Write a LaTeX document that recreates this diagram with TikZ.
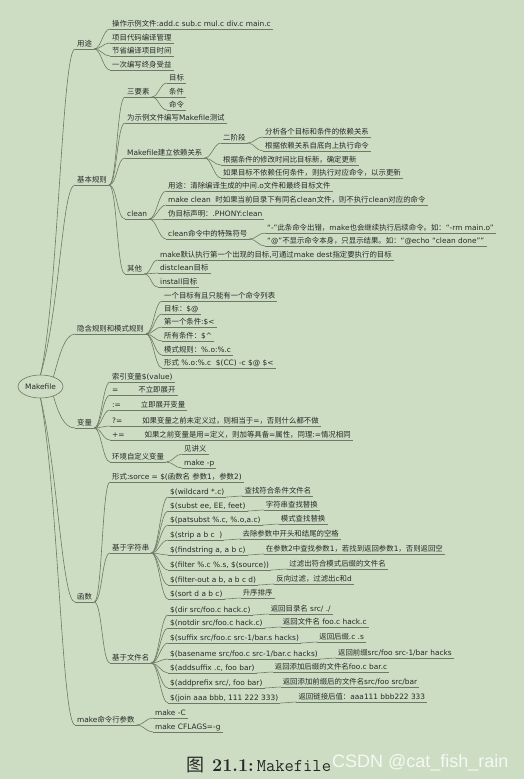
\documentclass[tikz,border=0pt]{standalone}
\usepackage{fontspec}
\setsansfont{DejaVu Sans}
\newfontfamily\zhfont{Noto Sans CJK SC}
\newfontfamily\wmfont{Liberation Sans}
\usetikzlibrary{shapes.geometric}
\XeTeXinterchartokenstate=1
\newXeTeXintercharclass\zhclass
\newcount\zhc
\zhc="3000
\loop\XeTeXcharclass\zhc=\zhclass\relax\ifnum\zhc<"303F\advance\zhc by 1\repeat
\zhc="4E00
\loop\XeTeXcharclass\zhc=\zhclass\relax\ifnum\zhc<"9FFF\advance\zhc by 1\repeat
\zhc="FF00
\loop\XeTeXcharclass\zhc=\zhclass\relax\ifnum\zhc<"FFEF\advance\zhc by 1\repeat
\XeTeXinterchartoks 0 \zhclass = {\zhfont}
\XeTeXinterchartoks 4095 \zhclass = {\zhfont}
\XeTeXinterchartoks \zhclass 0 = {\sffamily}
\XeTeXinterchartoks \zhclass 4095 = {\sffamily}
\newcommand\mmfs{\fontsize{7.4}{8.5}\selectfont}
\definecolor{bg}{RGB}{205,221,195}
\definecolor{lc}{RGB}{110,120,102}
\definecolor{txt}{RGB}{40,40,40}
\tikzset{
  ln/.style={draw=lc, line width=.6pt},
  tp/.style={anchor=south west, inner xsep=2pt, inner ysep=1pt, text height=5.6pt, text depth=1.7pt,
    text=txt, font=\sffamily\mmfs,
    append after command={(\tikzlastnode.south west) edge[ln] (\tikzlastnode.south east)}},
  rt/.style={ellipse, ln, inner sep=0pt, minimum width=45pt, minimum height=23pt, text=txt, font=\sffamily\mmfs},
  br/.style={ln, to path={.. controls +(#1,0) and +(-#1,0) .. (\tikztotarget)}},
  br/.default=7
}
\begin{document}
\begin{tikzpicture}[x=1pt, y=-1pt]
\fill[bg] (0,0) rectangle (524,779);
\node[rt] (mk) at (40.5,386.5) {Makefile};
\node[tp] (yt) at (75,49) {用途};
\node[tp] (yt1) at (110,29) {操作示例文件:add.c sub.c mul.c div.c main.c};
\node[tp] (yt2) at (110,43) {项目代码编译管理};
\node[tp] (yt3) at (110,56) {节省编译项目时间};
\node[tp] (yt4) at (110,70) {一次编写终身受益};
\node[tp] (jb) at (75,185) {基本规则};
\node[tp] (sys) at (125,97) {三要素};
\node[tp] (sys1) at (167,83) {目标};
\node[tp] (sys2) at (167,97) {条件};
\node[tp] (sys3) at (167,110) {命令};
\node[tp] (cs) at (125,123) {为示例文件编写Makefile测试};
\node[tp] (yl) at (125,158) {Makefile建立依赖关系};
\node[tp] (ej) at (221,143) {二阶段};
\node[tp] (ej1) at (263,137) {分析各个目标和条件的依赖关系};
\node[tp] (ej2) at (263,151) {根据依赖关系自底向上执行命令};
\node[tp] (yl3) at (221,165) {根据条件的修改时间比目标新，确定更新};
\node[tp] (yl4) at (221,178) {如果目标不依赖任何条件，则执行对应命令，以示更新};
\node[tp] (cl) at (125,219) {clean};
\node[tp] (cl1) at (166,191) {用途：清除编译生成的中间.o文件和最终目标文件};
\node[tp] (cl2) at (166,205) {make clean\ \ 时如果当前目录下有同名clean文件，则不执行clean对应的命令};
\node[tp] (cl3) at (166,219) {伪目标声明：.PHONY:clean};
\node[tp] (cl4) at (166,239) {clean命令中的特殊符号};
\node[tp] (cl41) at (265,233) {“-”此条命令出错，make也会继续执行后续命令。如：“-rm main.o”};
\node[tp] (cl42) at (265,246) {“@”不显示命令本身，只显示结果。如：“@echo “clean done””};
\node[tp] (qt) at (125,274) {其他};
\node[tp] (qt1) at (158,260) {make默认执行第一个出现的目标,可通过make dest指定要执行的目标};
\node[tp] (qt2) at (158,273) {distclean目标};
\node[tp] (qt3) at (158,287) {install目标};
\node[tp] (yh) at (75,334) {隐含规则和模式规则};
\node[tp] (yh1) at (162,301) {一个目标有且只能有一个命令列表};
\node[tp] (yh2) at (162,314) {目标：\$@};
\node[tp] (yh3) at (162,327) {第一个条件:\$<};
\node[tp] (yh4) at (162,341) {所有条件：\$\textasciicircum};
\node[tp] (yh5) at (162,355) {模式规则：\%.o:\%.c};
\node[tp] (yh6) at (162,368) {形式 \%.o:\%.c\ \ \$(CC) -c \$@ \$<};
\node[tp] (bl) at (75,428) {变量};
\node[tp] (bl1) at (110,382) {索引变量\$(value)};
\node[tp] (bl2) at (110,395) {=\hspace{20pt}不立即展开};
\node[tp] (bl3) at (110,410) {:=\hspace{20pt}立即展开变量};
\node[tp] (bl4) at (110,426) {?=\hspace{20pt}如果变量之前未定义过，则相当于=，否则什么都不做};
\node[tp] (bl5) at (110,440) {+=\hspace{20pt}如果之前变量是用=定义，则加等具备=属性，同理:=情况相同};
\node[tp] (hj) at (110,462) {环境自定义变量};
\node[tp] (hj1) at (182,454) {见讲义};
\node[tp] (hj2) at (182,468) {make -p};
\node[tp] (hs) at (75,602) {函数};
\node[tp] (hs0) at (110,482) {形式:sorce = \$(函数名 参数1，参数2)};
\node[tp] (zf) at (110,553) {基于字符串};
\node[tp] (zf1) at (168,497) {\$(wildcard *.c)};
\node[tp] (zf2) at (168,511) {\$(subst ee, EE, feet)};
\node[tp] (zf3) at (168,525) {\$(patsubst \%.c, \%.o,a.c)};
\node[tp] (zf4) at (168,540) {\$(strip a b c\ \ )};
\node[tp] (zf5) at (168,555) {\$(findstring a, a b c)};
\node[tp] (zf6) at (168,570) {\$(filter \%.c \%.s, \$(source))};
\node[tp] (zf7) at (168,585) {\$(filter-out a b, a b c d)};
\node[tp] (zf8) at (168,599) {\$(sort d a b c)};
\node[tp] (zl1) at ([shift={(16,-1)}]zf1.south east) {查找符合条件文件名};
\node[tp] (zl2) at ([shift={(16,-1)}]zf2.south east) {字符串查找替换};
\node[tp] (zl3) at ([shift={(16,-1)}]zf3.south east) {模式查找替换};
\node[tp] (zl4) at ([shift={(16,-1)}]zf4.south east) {去除参数中开头和结尾的空格};
\node[tp] (zl5) at ([shift={(16,-1)}]zf5.south east) {在参数2中查找参数1，若找到返回参数1，否则返回空};
\node[tp] (zl6) at ([shift={(16,-1)}]zf6.south east) {过滤出符合模式后缀的文件名};
\node[tp] (zl7) at ([shift={(16,-1)}]zf7.south east) {反向过滤，过滤出c和d};
\node[tp] (zl8) at ([shift={(16,-1)}]zf8.south east) {升序排序};
\node[tp] (wj) at (110,663) {基于文件名};
\node[tp] (wj1) at (168,615) {\$(dir src/foo.c hack.c)};
\node[tp] (wj2) at (168,628) {\$(notdir src/foo.c hack.c)};
\node[tp] (wj3) at (168,643) {\$(suffix src/foo.c src-1/bar.s hacks)};
\node[tp] (wj4) at (168,659) {\$(basename src/foo.c src-1/bar.c hacks)};
\node[tp] (wj5) at (168,673) {\$(addsuffix .c, foo bar)};
\node[tp] (wj6) at (168,688) {\$(addprefix src/, foo bar)};
\node[tp] (wj7) at (168,703) {\$(join aaa bbb, 111 222 333)};
\node[tp] (wl1) at ([shift={(16,-1)}]wj1.south east) {返回目录名 src/ ./};
\node[tp] (wl2) at ([shift={(16,-1)}]wj2.south east) {返回文件名 foo.c hack.c};
\node[tp] (wl3) at ([shift={(16,-1)}]wj3.south east) {返回后缀.c .s};
\node[tp] (wl4) at ([shift={(16,-1)}]wj4.south east) {返回前缀src/foo src-1/bar hacks};
\node[tp] (wl5) at ([shift={(16,-1)}]wj5.south east) {返回添加后缀的文件名foo.c bar.c};
\node[tp] (wl6) at ([shift={(16,-1)}]wj6.south east) {返回添加前缀后的文件名src/foo src/bar};
\node[tp] (wl7) at ([shift={(16,-1)}]wj7.south east) {返回链接后值：aaa111 bbb222 333};
\node[tp] (cmd) at (75,725) {make命令行参数};
\node[tp] (cmd1) at (153,718) {make -C};
\node[tp] (cmd2) at (153,732) {make CFLAGS=-g};
\draw[ln] (mk.north) .. controls +(17.5,-75) and +(-13,0) .. (yt.south west);
\draw[ln] (mk.north) .. controls +(19.5,-65) and +(-13,0) .. (jb.south west);
\draw[ln] (mk.37) .. controls +(5,-17) and +(-11,0) .. (yh.south west);
\draw[ln] (mk.-37) .. controls +(5,17) and +(-11,0) .. (bl.south west);
\draw[ln] (mk.south) .. controls +(17.5,72) and +(-13,0) .. (hs.south west);
\draw[ln] (mk.south) .. controls +(17.5,92) and +(-13,0) .. (cmd.south west);
\foreach \c in {yt1,yt2,yt3,yt4} \draw[br] (yt.south east) to (\c.south west);
\foreach \c in {sys,cs,yl,cl,qt} \draw[br=8] (jb.south east) to (\c.south west);
\foreach \c in {sys1,sys2,sys3} \draw[br] (sys.south east) to (\c.south west);
\foreach \c in {ej,yl3,yl4} \draw[br] (yl.south east) to (\c.south west);
\foreach \c in {ej1,ej2} \draw[br] (ej.south east) to (\c.south west);
\foreach \c in {cl1,cl2,cl3,cl4} \draw[br] (cl.south east) to (\c.south west);
\foreach \c in {cl41,cl42} \draw[br] (cl4.south east) to (\c.south west);
\foreach \c in {qt1,qt2,qt3} \draw[br] (qt.south east) to (\c.south west);
\foreach \c in {yh1,yh2,yh3,yh4,yh5,yh6} \draw[br] (yh.south east) to (\c.south west);
\foreach \c in {bl1,bl2,bl3,bl4,bl5,hj} \draw[br] (bl.south east) to (\c.south west);
\foreach \c in {hj1,hj2} \draw[br] (hj.south east) to (\c.south west);
\foreach \c in {hs0,zf,wj} \draw[br=8] (hs.south east) to (\c.south west);
\foreach \c in {1,...,8} \draw[br] (zf.south east) to (zf\c.south west);
\foreach \c in {1,...,8} \draw[br=5] (zf\c.south east) to (zl\c.south west);
\foreach \c in {1,...,7} \draw[br] (wj.south east) to (wj\c.south west);
\foreach \c in {1,...,7} \draw[br=5] (wj\c.south east) to (wl\c.south west);
\foreach \c in {cmd1,cmd2} \draw[br] (cmd.south east) to (\c.south west);
\node[anchor=base west, inner sep=0pt, text=txt, font=\fontsize{18}{20}\selectfont] (cap) at (186,771)
  {\XeTeXinterchartokenstate=0 {\zhfont 图}\hspace{8pt}{\bfseries 21.1:}\hspace{3pt}\texttt{Makefile}};
\node[anchor=base west, inner sep=0pt, text=white, text opacity=.8, font=\wmfont\fontsize{18}{20}\selectfont] (wm) at (332,767)
  {CSDN @cat\_fish\_rain};
\end{tikzpicture}
\end{document}
